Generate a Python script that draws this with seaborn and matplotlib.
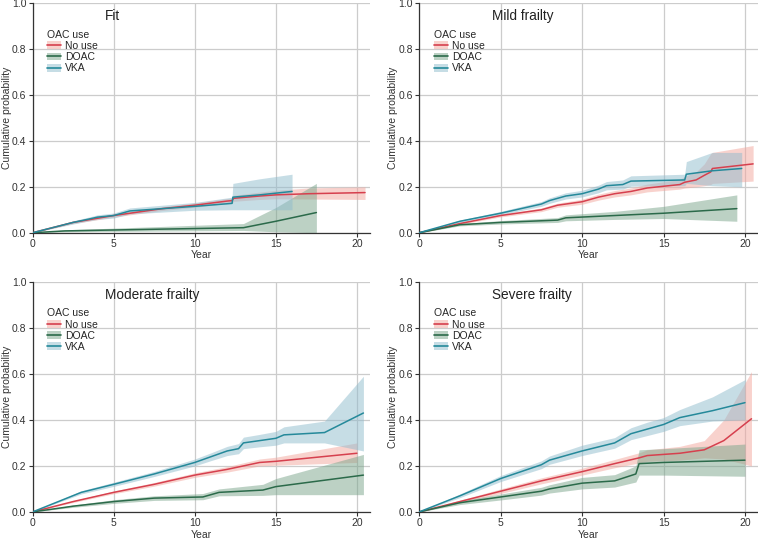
import pandas as pd
import numpy as np
import matplotlib
matplotlib.use("Agg")
import matplotlib.pyplot as plt
import seaborn as sns
from matplotlib.patches import Patch
from matplotlib.lines import Line2D

groups = ["No use", "DOAC", "VKA"]
panels = ["Fit", "Mild frailty", "Moderate frailty", "Severe frailty"]

# each series: years, estimate, lower CI, upper CI
fit_nouse_t = [0, 2.5, 5, 6, 8, 10, 12, 12.3, 12.4, 14, 15, 17, 20.5]
fit_nouse_y = [0, 0.045, 0.075, 0.085, 0.105, 0.12, 0.138, 0.14, 0.15, 0.16, 0.165, 0.17, 0.175]
fit_nouse_lo = [0, 0.04, 0.068, 0.078, 0.097, 0.111, 0.127, 0.129, 0.137, 0.145, 0.148, 0.147, 0.145]
fit_nouse_hi = [0, 0.05, 0.082, 0.092, 0.113, 0.13, 0.149, 0.151, 0.163, 0.177, 0.185, 0.195, 0.2]

fit_doac_t = [0, 2, 5, 9, 13, 15, 17.5]
fit_doac_y = [0, 0.008, 0.012, 0.017, 0.022, 0.05, 0.088]
fit_doac_lo = [0, 0.004, 0.006, 0.008, 0.01, 0.004, 0.0]
fit_doac_hi = [0, 0.013, 0.02, 0.03, 0.04, 0.11, 0.215]

fit_vka_t = [0, 2.5, 3.5, 4, 5, 5.5, 6, 8, 10, 12.3, 12.35, 14, 16]
fit_vka_y = [0, 0.045, 0.06, 0.068, 0.075, 0.085, 0.095, 0.105, 0.115, 0.128, 0.155, 0.165, 0.18]
fit_vka_lo = [0, 0.038, 0.052, 0.058, 0.064, 0.073, 0.082, 0.09, 0.098, 0.1, 0.1, 0.1, 0.1]
fit_vka_hi = [0, 0.052, 0.069, 0.078, 0.086, 0.097, 0.108, 0.12, 0.132, 0.155, 0.215, 0.235, 0.255]

mild_nouse_t = [0, 2.5, 5, 7.5, 8.5, 10, 11, 12, 13, 14, 16, 16.3, 17, 17.5, 17.9, 18, 20.5]
mild_nouse_y = [0, 0.04, 0.075, 0.1, 0.12, 0.135, 0.155, 0.17, 0.18, 0.195, 0.21, 0.22, 0.23, 0.25, 0.265, 0.28, 0.3]
mild_nouse_lo = [0, 0.036, 0.069, 0.092, 0.111, 0.124, 0.142, 0.156, 0.165, 0.178, 0.19, 0.195, 0.2, 0.205, 0.21, 0.215, 0.225]
mild_nouse_hi = [0, 0.044, 0.081, 0.108, 0.129, 0.146, 0.168, 0.184, 0.195, 0.212, 0.232, 0.245, 0.265, 0.3, 0.345, 0.35, 0.38]

mild_doac_t = [0, 2.5, 5, 8.5, 9, 12, 15, 19.5]
mild_doac_y = [0, 0.035, 0.045, 0.055, 0.065, 0.075, 0.085, 0.105]
mild_doac_lo = [0, 0.03, 0.038, 0.045, 0.052, 0.058, 0.062, 0.05]
mild_doac_hi = [0, 0.04, 0.053, 0.066, 0.078, 0.093, 0.115, 0.165]

mild_vka_t = [0, 2.5, 5, 7.5, 8, 9, 10, 11, 11.5, 12.5, 13, 16.3, 16.4, 18, 19.8]
mild_vka_y = [0, 0.05, 0.085, 0.125, 0.14, 0.16, 0.17, 0.19, 0.205, 0.21, 0.225, 0.23, 0.255, 0.27, 0.28]
mild_vka_lo = [0, 0.045, 0.078, 0.115, 0.128, 0.147, 0.156, 0.174, 0.187, 0.19, 0.203, 0.205, 0.215, 0.205, 0.2]
mild_vka_hi = [0, 0.055, 0.093, 0.136, 0.152, 0.174, 0.185, 0.207, 0.223, 0.23, 0.248, 0.255, 0.31, 0.35, 0.35]

mod_nouse_t = [0, 2.5, 5, 7.5, 10, 12, 14, 15, 20]
mod_nouse_y = [0, 0.045, 0.085, 0.12, 0.16, 0.185, 0.215, 0.22, 0.255]
mod_nouse_lo = [0, 0.041, 0.079, 0.112, 0.15, 0.173, 0.2, 0.203, 0.215]
mod_nouse_hi = [0, 0.049, 0.091, 0.128, 0.17, 0.197, 0.23, 0.238, 0.3]

mod_doac_t = [0, 2.5, 5, 7.5, 10.5, 11.5, 14.2, 15, 20.4]
mod_doac_y = [0, 0.025, 0.045, 0.06, 0.065, 0.085, 0.095, 0.11, 0.16]
mod_doac_lo = [0, 0.02, 0.037, 0.05, 0.053, 0.07, 0.072, 0.075, 0.075]
mod_doac_hi = [0, 0.03, 0.053, 0.07, 0.08, 0.1, 0.12, 0.145, 0.25]

mod_vka_t = [0, 3, 5, 7.5, 10, 11, 12, 12.7, 13, 14, 15, 15.5, 18, 20.4]
mod_vka_y = [0, 0.085, 0.12, 0.165, 0.215, 0.24, 0.265, 0.275, 0.3, 0.31, 0.32, 0.335, 0.345, 0.43]
mod_vka_lo = [0, 0.078, 0.111, 0.154, 0.2, 0.223, 0.245, 0.253, 0.275, 0.283, 0.29, 0.3, 0.3, 0.265]
mod_vka_hi = [0, 0.092, 0.129, 0.176, 0.23, 0.257, 0.285, 0.297, 0.325, 0.337, 0.35, 0.37, 0.395, 0.59]

sev_nouse_t = [0, 2.5, 5, 7.5, 10, 12, 13.5, 14, 16, 17.5, 18.7, 20.4]
sev_nouse_y = [0, 0.045, 0.09, 0.135, 0.175, 0.21, 0.235, 0.245, 0.255, 0.27, 0.31, 0.405]
sev_nouse_lo = [0, 0.039, 0.08, 0.122, 0.16, 0.192, 0.213, 0.22, 0.225, 0.235, 0.23, 0.2]
sev_nouse_hi = [0, 0.051, 0.1, 0.148, 0.19, 0.228, 0.257, 0.27, 0.285, 0.31, 0.4, 0.61]

sev_doac_t = [0, 2.5, 5, 7.5, 8, 10, 12, 13.3, 13.5, 15, 20]
sev_doac_y = [0, 0.04, 0.065, 0.09, 0.1, 0.125, 0.135, 0.165, 0.21, 0.215, 0.225]
sev_doac_lo = [0, 0.032, 0.052, 0.073, 0.082, 0.1, 0.108, 0.13, 0.16, 0.16, 0.155]
sev_doac_hi = [0, 0.048, 0.078, 0.107, 0.118, 0.15, 0.162, 0.2, 0.27, 0.275, 0.295]

sev_vka_t = [0, 2.5, 5, 7.5, 8, 10, 12, 13, 14, 15, 16, 18, 20]
sev_vka_y = [0, 0.07, 0.145, 0.205, 0.225, 0.265, 0.3, 0.34, 0.36, 0.38, 0.41, 0.44, 0.475]
sev_vka_lo = [0, 0.062, 0.132, 0.188, 0.207, 0.245, 0.277, 0.314, 0.332, 0.35, 0.375, 0.395, 0.4]
sev_vka_hi = [0, 0.078, 0.158, 0.222, 0.243, 0.29, 0.323, 0.366, 0.39, 0.41, 0.445, 0.5, 0.575]

series = {
    "Fit": [(fit_nouse_t, fit_nouse_y, fit_nouse_lo, fit_nouse_hi),
            (fit_doac_t, fit_doac_y, fit_doac_lo, fit_doac_hi),
            (fit_vka_t, fit_vka_y, fit_vka_lo, fit_vka_hi)],
    "Mild frailty": [(mild_nouse_t, mild_nouse_y, mild_nouse_lo, mild_nouse_hi),
                     (mild_doac_t, mild_doac_y, mild_doac_lo, mild_doac_hi),
                     (mild_vka_t, mild_vka_y, mild_vka_lo, mild_vka_hi)],
    "Moderate frailty": [(mod_nouse_t, mod_nouse_y, mod_nouse_lo, mod_nouse_hi),
                         (mod_doac_t, mod_doac_y, mod_doac_lo, mod_doac_hi),
                         (mod_vka_t, mod_vka_y, mod_vka_lo, mod_vka_hi)],
    "Severe frailty": [(sev_nouse_t, sev_nouse_y, sev_nouse_lo, sev_nouse_hi),
                       (sev_doac_t, sev_doac_y, sev_doac_lo, sev_doac_hi),
                       (sev_vka_t, sev_vka_y, sev_vka_lo, sev_vka_hi)],
}

line_colors = {"No use": "#d6404e", "DOAC": "#2b6a4a", "VKA": "#25899a"}
fill_colors = {"No use": "#f3a69d", "DOAC": "#7aa58b", "VKA": "#8fbccd"}

sns.set_style("whitegrid")
plt.rcParams["font.family"] = ["Liberation Sans", "DejaVu Sans"]

fig = plt.figure(figsize=(7.58, 5.40), dpi=100)
positions = [
    [0.043, 0.569, 0.445, 0.425],
    [0.553, 0.569, 0.447, 0.425],
    [0.043, 0.052, 0.445, 0.426],
    [0.553, 0.052, 0.447, 0.426],
]

for pos, name in zip(positions, panels):
    ax = fig.add_axes(pos)
    rows = []
    for g, (t, y, lo, hi) in zip(groups, series[name]):
        ax.fill_between(t, lo, hi, color=fill_colors[g], alpha=0.5, linewidth=0, zorder=2)
        for ti, yi in zip(t, y):
            rows.append({"Year": ti, "p": yi, "OAC use": g})
    df = pd.DataFrame(rows)
    sns.lineplot(data=df, x="Year", y="p", hue="OAC use", palette=line_colors,
                 estimator=None, sort=False, linewidth=1.1, legend=False, ax=ax, zorder=3)

    ax.set_xlim(0, 20.8)
    ax.set_ylim(0, 1.0)
    ax.set_xticks([0, 5, 10, 15, 20])
    ax.set_yticks([0, 0.2, 0.4, 0.6, 0.8, 1.0])
    ax.set_yticklabels(["0.0", "0.2", "0.4", "0.6", "0.8", "1.0"])
    ax.grid(True, color="#cccccc", linewidth=0.9)
    for s in ["top", "right"]:
        ax.spines[s].set_visible(False)
    for s in ["left", "bottom"]:
        ax.spines[s].set_color("#333333")
        ax.spines[s].set_linewidth(0.9)
    ax.tick_params(axis="both", labelsize=7.5, length=3, width=0.8, color="#333333",
                   pad=1.5, labelcolor="#333333", direction="out", bottom=True, left=True)
    ax.set_xlabel("Year", fontsize=7.5, color="#333333", labelpad=1)
    ax.set_ylabel("Cumulative probability", fontsize=7.5, color="#333333")
    ax.yaxis.set_label_coords(-0.062, 0.5)
    ax.text(0.215, 0.945, name, transform=ax.transAxes, fontsize=9.8,
            ha="left", va="center", color="#222222")

    handles = [(Patch(facecolor=fill_colors[g], alpha=0.5, edgecolor="none"),
                Line2D([], [], color=line_colors[g], linewidth=1.2)) for g in groups]
    leg = ax.legend(handles, groups, title="OAC use", loc="upper left",
                    bbox_to_anchor=(0.044, 0.885), frameon=False, fontsize=7.5,
                    title_fontsize=7.5, handlelength=1.3, handleheight=0.8,
                    handletextpad=0.4, labelspacing=0.12, borderaxespad=0, borderpad=0)
    leg._legend_box.align = "left"

fig.savefig("out.png", dpi=100)
